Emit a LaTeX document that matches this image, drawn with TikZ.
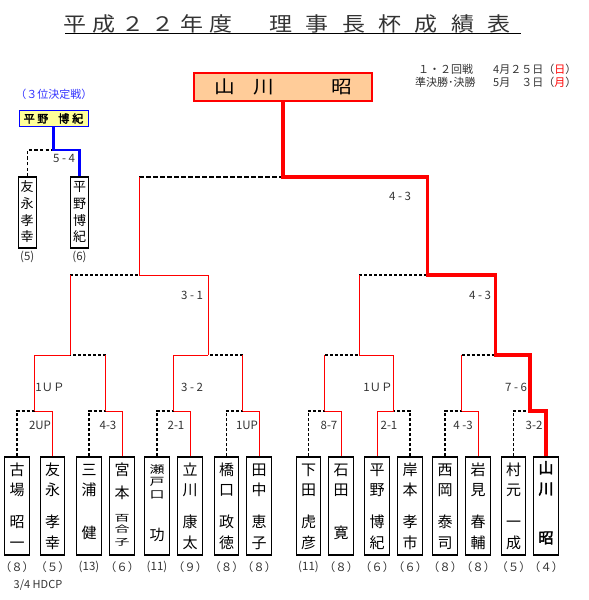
\documentclass[tikz,border=0pt]{standalone}
\usepackage{fontspec}
\usepackage{graphicx}
\setmainfont{Noto Sans CJK JP}
\newfontfamily\titlefont{Noto Sans CJK JP}[FakeStretch=1.15]
\newfontfamily\boldcjk{Noto Sans CJK JP}[FakeBold=2.5]
\makeatletter
\newcommand\spreadtext[2]{\@tfor\sp@c:=#2\do{\makebox[#1]{\sp@c}}}
\makeatother
% vertical name rows: skip before, glyph
\newcommand\cj[2]{\vskip#1\relax\hbox to 1em{\hss\vrule height .88em depth .12em width 0pt\relax#2\hss}}
% compressed row: skip before, vertical scale, glyph
\newcommand\cjs[3]{\vskip#1\relax\hbox to 1em{\hss\scalebox{1}[#2]{\vrule height .88em depth .12em width 0pt\relax#3}\hss}}
\definecolor{peach}{HTML}{FFCC99}
\definecolor{lyellow}{HTML}{FFFF99}
\definecolor{tgray}{HTML}{333333}
\definecolor{lblue}{HTML}{3333FF}
\begin{document}
\begin{tikzpicture}[x=1pt,y=-1pt,
  win/.style={draw=red, line width=1pt},
  champline/.style={draw=red, line width=3.6pt, line join=miter},
  lose/.style={draw=black, line width=1.3pt, dash pattern=on 3pt off 2pt},
  losebig/.style={draw=black, line width=1.7pt, dash pattern=on 4.5pt off 2.5pt},
  blueline/.style={draw=blue, line width=2.2pt, line join=miter},
  pbox/.style={draw, line width=1.2pt, minimum width=24.5pt, minimum height=98pt, inner sep=0pt},
  sbox/.style={draw, line width=1.1pt, minimum width=17.7pt, minimum height=71pt, inner sep=0pt},
  nm/.style={anchor=north, inner sep=0pt, font=\fontsize{15}{15}\selectfont, text=black},
  snm/.style={anchor=north, inner sep=0pt, font=\fontsize{13}{13}\selectfont, text=black},
  score/.style={inner sep=0pt, font=\fontsize{11.5}{11.5}\selectfont, text=tgray},
  hc/.style={inner sep=0pt, font=\fontsize{11.5}{11.5}\selectfont, text=tgray},
  info/.style={inner sep=0pt, anchor=west, font=\fontsize{11}{11}\selectfont, text=tgray}
]
\path[use as bounding box] (0,0) rectangle (589,600);

% ---------- title ----------
\node[inner sep=0pt, font=\titlefont\fontsize{20}{20}\selectfont, text=tgray] (ta) at (148,23.5) {\spreadtext{29.2pt}{平成２２年度}};
\node[inner sep=0pt, font=\titlefont\fontsize{20}{20}\selectfont, text=tgray] (tb) at (390,23.5) {\spreadtext{36.3pt}{理事長杯成績表}};
\draw[line width=0.8pt] (65,33.5) -- (521,33.5);

% ---------- dates ----------
\node[info] (d1) at (418,69) {１・２回戦};
\node[info] (d2) at (493,69) {4月２５日（{\color{red}日}）};
\node[info] (d3) at (415,82) {準決勝･決勝};
\node[info] (d4) at (493,82) {5月　３日（{\color{red}月}）};

% ---------- champion ----------
\node[draw=red, line width=2pt, fill=peach, minimum width=178pt, minimum height=28pt, inner sep=0pt,
      font=\titlefont\fontsize{18}{18}\selectfont] (champ) at (283.2,87) {\spreadtext{39pt}{山川　昭}};

% ---------- third place ----------
\node[inner sep=0pt, font=\fontsize{11}{11}\selectfont, text=lblue] (thl) at (54,94) {（３位決定戦）};
\node[draw=blue, line width=1pt, fill=lyellow, minimum width=69pt, minimum height=15.5pt, inner sep=0pt,
      font=\boldcjk\fontsize{11}{11}\selectfont] (third) at (53.5,118.5) {平\hspace{2.5pt}野\hspace{10pt}博\hspace{3pt}紀};
\node[sbox] (tp1) at (27.2,212.5) {};
\node[sbox] (tp2) at (79.5,212.5) {};
\node[snm] (tn1) at (tp1.north) {\vbox{\offinterlineskip\cj{3.5pt}{友}\cj{4pt}{永}\cj{4pt}{孝}\cj{3pt}{幸}}};
\node[snm] (tn2) at (tp2.north) {\vbox{\offinterlineskip\cj{3.5pt}{平}\cj{4pt}{野}\cj{4pt}{博}\cj{3pt}{紀}}};
\coordinate (q) at (53.5,150);
\draw[lose, dash pattern=on 3.3pt off 2.3pt] (tp1.north) |- (q);
\draw[blueline] (third.south) -- (q) -| (tp2.north);
\node[score] (l3rd) at (64,158) {5 - 4};
\node[hc] (th1) at (27.2,257) {(5)};
\node[hc] (th2) at (79.5,257) {(6)};

% ---------- player boxes ----------
\node[pbox] (p1) at (17,506) {};
\node[pbox] (p2) at (52.5,506) {};
\node[pbox] (p3) at (89,506) {};
\node[pbox] (p4) at (122,506) {};
\node[pbox] (p5) at (157,506) {};
\node[pbox] (p6) at (190,506) {};
\node[pbox] (p7) at (226.5,506) {};
\node[pbox] (p8) at (259,506) {};
\node[pbox] (p9) at (308.5,506) {};
\node[pbox] (p10) at (341,506) {};
\node[pbox] (p11) at (377,506) {};
\node[pbox] (p12) at (410,506) {};
\node[pbox] (p13) at (445,506) {};
\node[pbox] (p14) at (478,506) {};
\node[pbox] (p15) at (513.5,506) {};
\node[pbox] (p16) at (546,506) {};

\node[nm] (n1) at (p1.north) {\vbox{\offinterlineskip\cj{5.5pt}{古}\cj{5pt}{場}\cj{17pt}{昭}\cj{6pt}{一}}};
\node[nm] (n2) at (p2.north) {\vbox{\offinterlineskip\cj{5.5pt}{友}\cj{5pt}{永}\cj{17pt}{孝}\cj{6pt}{幸}}};
\node[nm] (n3) at (p3.north) {\vbox{\offinterlineskip\cj{5.5pt}{三}\cj{5pt}{浦}\cj{28pt}{健}}};
\node[nm] (n4) at (p4.north) {\vbox{\offinterlineskip\cj{5.5pt}{宮}\cj{8pt}{本}\cjs{13pt}{0.6}{百}\cjs{2pt}{0.6}{合}\cjs{4pt}{0.6}{子}}};
\node[nm] (n5) at (p5.north) {\vbox{\offinterlineskip\cjs{7.75pt}{0.7}{瀬}\cjs{1.5pt}{0.7}{戸}\cjs{2.5pt}{0.7}{口}\cj{27.25pt}{功}}};
\node[nm] (n6) at (p6.north) {\vbox{\offinterlineskip\cj{5.5pt}{立}\cj{5pt}{川}\cj{17pt}{康}\cj{6pt}{太}}};
\node[nm] (n7) at (p7.north) {\vbox{\offinterlineskip\cj{5.5pt}{橋}\cj{5pt}{口}\cj{17pt}{政}\cj{6pt}{徳}}};
\node[nm] (n8) at (p8.north) {\vbox{\offinterlineskip\cj{5.5pt}{田}\cj{5pt}{中}\cj{17pt}{恵}\cj{6pt}{子}}};
\node[nm] (n9) at (p9.north) {\vbox{\offinterlineskip\cj{5.5pt}{下}\cj{5pt}{田}\cj{17pt}{虎}\cj{6pt}{彦}}};
\node[nm] (n10) at (p10.north) {\vbox{\offinterlineskip\cj{5.5pt}{石}\cj{5pt}{田}\cj{28pt}{寛}}};
\node[nm] (n11) at (p11.north) {\vbox{\offinterlineskip\cj{5.5pt}{平}\cj{5pt}{野}\cj{17pt}{博}\cj{6pt}{紀}}};
\node[nm] (n12) at (p12.north) {\vbox{\offinterlineskip\cj{5.5pt}{岸}\cj{5pt}{本}\cj{17pt}{孝}\cj{6pt}{市}}};
\node[nm] (n13) at (p13.north) {\vbox{\offinterlineskip\cj{5.5pt}{西}\cj{5pt}{岡}\cj{17pt}{泰}\cj{6pt}{司}}};
\node[nm] (n14) at (p14.north) {\vbox{\offinterlineskip\cj{5.5pt}{岩}\cj{5pt}{見}\cj{17pt}{春}\cj{6pt}{輔}}};
\node[nm] (n15) at (p15.north) {\vbox{\offinterlineskip\cj{5.5pt}{村}\cj{5pt}{元}\cj{17pt}{一}\cj{6pt}{成}}};
\node[nm, font=\boldcjk\fontsize{15}{15}\selectfont] (n16) at (p16.north) {\vbox{\offinterlineskip\cj{3.5pt}{山}\cj{6pt}{川}\cj{34pt}{昭}}};

% handicaps
\node[hc] (h1) at (17,567) {（８）};
\node[hc] (h2) at (52.5,567) {（５）};
\node[hc] (h3) at (89,567) {(13)};
\node[hc] (h4) at (122,567) {（６）};
\node[hc] (h5) at (157,567) {(11)};
\node[hc] (h6) at (190,567) {（９）};
\node[hc] (h7) at (226.5,567) {（８）};
\node[hc] (h8) at (259,567) {（８）};
\node[hc] (h9) at (308.5,567) {(11)};
\node[hc] (h10) at (341,567) {（８）};
\node[hc] (h11) at (377,567) {（６）};
\node[hc] (h12) at (410,567) {（６）};
\node[hc] (h13) at (445,567) {（８）};
\node[hc] (h14) at (478,567) {（８）};
\node[hc] (h15) at (513.5,567) {（５）};
\node[hc] (h16) at (546,567) {（４）};
\node[hc, font=\fontsize{11}{11}\selectfont] (hd) at (38,585) {3/4 HDCP};

% ---------- match points ----------
\coordinate (m1) at (34.75,411);
\coordinate (m2) at (105.5,411);
\coordinate (m3) at (173.5,411);
\coordinate (m4) at (242.75,411);
\coordinate (m5) at (324.75,411);
\coordinate (m6) at (393.5,411);
\coordinate (m7) at (461.5,411);
\coordinate (m8) at (529.75,411);
\coordinate (s1) at (70.1,355);
\coordinate (s2) at (208.1,355);
\coordinate (s3) at (359.1,355);
\coordinate (s4) at (495.6,355);
\coordinate (t1) at (139.1,275);
\coordinate (t2) at (427.4,275);
\coordinate (f) at (283.2,177);

% round 1
\draw[lose] (p1.north) |- (m1);
\draw[win] (p2.north) |- (m1);
\draw[lose] (p3.north) |- (m2);
\draw[win] (p4.north) |- (m2);
\draw[lose] (p5.north) |- (m3);
\draw[win] (p6.north) |- (m3);
\draw[lose] (p7.north) |- (m4);
\draw[win] (p8.north) |- (m4);
\draw[lose] (p9.north) |- (m5);
\draw[win] (p10.north) |- (m5);
\draw[lose] (p12.north) |- (m6);
\draw[win] (p11.north) |- (m6);
\draw[lose] (p13.north) |- (m7);
\draw[win] (p14.north) |- (m7);
\draw[lose] (p15.north) |- (m8);
% round 2
\draw[lose] (m2 |- s1) -- (s1);
\draw[win] (m1) |- (s1);
\draw[win] (m2) -- (m2 |- s1);
\draw[lose] (m4 |- s2) -- (s2);
\draw[win] (m3) |- (s2);
\draw[win] (m4) -- (m4 |- s2);
\draw[lose] (m5 |- s3) -- (s3);
\draw[win] (m5) -- (m5 |- s3);
\draw[win] (m6) |- (s3);
\draw[lose] (m7 |- s4) -- (s4);
\draw[win] (m7) -- (m7 |- s4);
% round 3
\draw[lose] (s1 |- t1) -- (t1);
\draw[win] (s1) -- (s1 |- t1);
\draw[win] (s2) |- (t1);
\draw[lose] (s3 |- t2) -- (t2);
\draw[win] (s3) -- (s3 |- t2);
% final
\draw[losebig] (t1 |- f) -- (f);
\draw[win] (t1) -- (t1 |- f);
\draw[champline] (p16.north) |- (m8) |- (s4) |- (t2) |- (f) -- (champ.south);

% scores
\node[score] (r1a) at (40,425) {2UP};
\node[score] (r1b) at (108,425) {4-3};
\node[score] (r1c) at (176,425) {2-1};
\node[score] (r1d) at (247,425) {1UP};
\node[score] (r1e) at (329,425) {8-7};
\node[score] (r1f) at (389,425) {2-1};
\node[score] (r1g) at (463,425) {4 -3};
\node[score] (r1h) at (534,425) {3-2};
\node[score] (r2a) at (50,387) {1ＵＰ};
\node[score] (r2b) at (192,387) {3 - 2};
\node[score] (r2c) at (378,387) {1ＵＰ};
\node[score] (r2d) at (516,387) {7 - 6};
\node[score] (r3a) at (192,295) {3 - 1};
\node[score] (r3b) at (480,295) {4 - 3};
\node[score] (rf) at (400,196) {4 - 3};
\end{tikzpicture}
\end{document}
